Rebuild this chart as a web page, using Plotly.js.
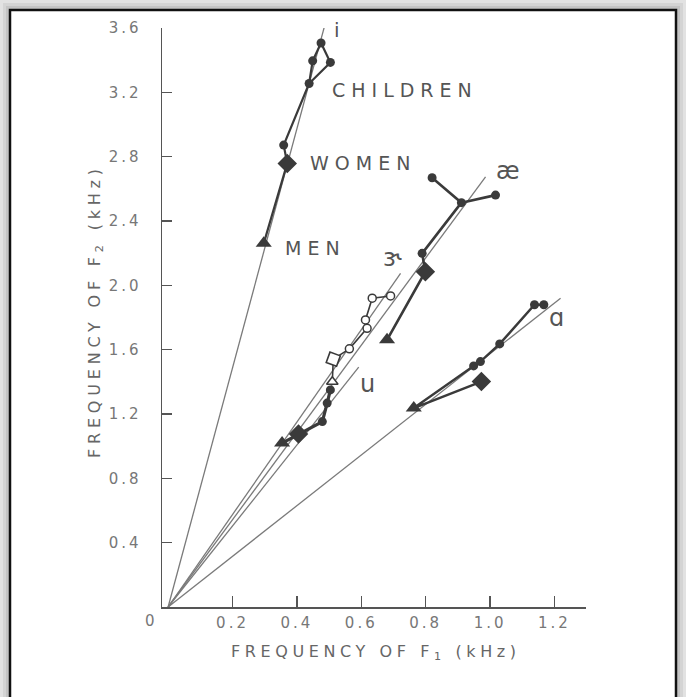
<!DOCTYPE html>
<html><head><meta charset="utf-8">
<script src="https://cdn.plot.ly/plotly-3.0.1.min.js"></script>
<style>body{margin:0;background:#fff}#chart{width:686px;height:697px}</style>
</head><body><div id="chart"></div>
<script>
// ---- data (kHz) ----
const vowels = ['i', 'æ', 'ɝ', 'u', 'ɑ'];
// far ends of the thin lines drawn from the origin, one per vowel
const rayF1 = [0.487, 0.986, 0.722, 0.592, 1.219];
const rayF2 = [3.620, 2.675, 2.075, 1.491, 1.920];

// men (filled triangles) for i, æ, u, ɑ
const menVowel = ['i', 'æ', 'u', 'ɑ'];
const menF1 = [0.297, 0.680, 0.354, 0.763];
const menF2 = [2.261, 1.661, 1.019, 1.237];
// women (filled diamonds) for i, æ, u, ɑ
const womenF1 = [0.370, 0.799, 0.405, 0.973];
const womenF2 = [2.758, 2.085, 1.075, 1.402];
// children (filled dots)
const childI_F1 = [0.359, 0.438, 0.449, 0.475, 0.504];
const childI_F2 = [2.872, 3.255, 3.396, 3.507, 3.386];
const childAE_F1 = [0.789, 0.911, 0.820, 1.017];
const childAE_F2 = [2.199, 2.514, 2.669, 2.561];
const childU_F1 = [0.479, 0.494, 0.504];
const childU_F2 = [1.153, 1.268, 1.350];
const childA_F1 = [0.949, 0.970, 1.030, 1.138, 1.167];
const childA_F2 = [1.499, 1.526, 1.636, 1.879, 1.879];
// ɝ (open symbols)
const erMenF1 = [0.510], erMenF2 = [1.400];
const erWomenF1 = [0.513], erWomenF2 = [1.541];
const erChildF1 = [0.563, 0.618, 0.613, 0.634, 0.691];
const erChildF2 = [1.605, 1.733, 1.785, 1.920, 1.934];

const xTicks = [0.2, 0.4, 0.6, 0.8, 1.0, 1.2];
const xTickText = ['0.2', '0.4', '0.6', '0.8', '1.0', '1.2'];
const yTicks = [0.4, 0.8, 1.2, 1.6, 2.0, 2.4, 2.8, 3.2, 3.6];
const yTickText = ['0.4', '0.8', '1.2', '1.6', '2.0', '2.4', '2.8', '3.2', '3.6'];

// ---- style ----
const INK = '#3a3a3a', RAY = '#7a7a7a', TXT = '#555555';
const FONT = 'DejaVu Sans';
const sp = (t, s) => '<span style="letter-spacing:' + s + 'px">' + t + '</span>';

const traces = [];
// thin rays from the origin
vowels.forEach((v, k) => traces.push({
  type: 'scatter', mode: 'lines', x: [0, rayF1[k]], y: [0, rayF2[k]],
  line: {color: RAY, width: 1.3}, hoverinfo: 'skip', showlegend: false
}));
function path(xs, ys, w) {
  traces.push({type: 'scatter', mode: 'lines', x: xs, y: ys,
    line: {color: INK, width: w}, hoverinfo: 'skip', showlegend: false});
}
// connecting paths men -> women -> children
path([menF1[0], womenF1[0], childI_F1[0], childI_F1[1], childI_F1[2], childI_F1[3], childI_F1[4], childI_F1[1]],
     [menF2[0], womenF2[0], childI_F2[0], childI_F2[1], childI_F2[2], childI_F2[3], childI_F2[4], childI_F2[1]], 2.2);
path([menF1[1], womenF1[1], childAE_F1[0], childAE_F1[1], childAE_F1[2], null, childAE_F1[1], childAE_F1[3]],
     [menF2[1], womenF2[1], childAE_F2[0], childAE_F2[1], childAE_F2[2], null, childAE_F2[1], childAE_F2[3]], 2.6);
path([menF1[2], womenF1[2]].concat(childU_F1), [menF2[2], womenF2[2]].concat(childU_F2), 3.2);
path([womenF1[3], menF1[3]].concat(childA_F1), [womenF2[3], menF2[3]].concat(childA_F2), 2.4);
path(erMenF1.concat(erWomenF1, erChildF1), erMenF2.concat(erWomenF2, erChildF2), 1.6);

// markers
traces.push({type: 'scatter', mode: 'markers', x: menF1, y: menF2, text: menVowel,
  marker: {symbol: 'triangle-up', size: 14, color: INK}, showlegend: false});
traces.push({type: 'scatter', mode: 'markers', x: womenF1, y: womenF2,
  marker: {symbol: 'diamond', size: 15, color: INK}, showlegend: false});
traces.push({type: 'scatter', mode: 'markers',
  x: childI_F1.concat(childAE_F1, childU_F1, childA_F1),
  y: childI_F2.concat(childAE_F2, childU_F2, childA_F2),
  marker: {symbol: 'circle', size: 9, color: INK}, showlegend: false});
traces.push({type: 'scatter', mode: 'markers', x: erMenF1, y: erMenF2,
  marker: {symbol: 'triangle-up', size: 10, color: '#fff', line: {color: INK, width: 1.5}}, showlegend: false});
traces.push({type: 'scatter', mode: 'markers', x: erWomenF1, y: erWomenF2,
  marker: {symbol: 'square', size: 11, color: '#fff', line: {color: INK, width: 1.6}, angle: 20}, showlegend: false});
traces.push({type: 'scatter', mode: 'markers', x: erChildF1, y: erChildF2,
  marker: {symbol: 'circle', size: 8, color: '#fff', line: {color: INK, width: 1.5}}, showlegend: false});

// ---- frame (paper coords) ----
const px = v => (v - 162) / 424, py = v => (607 - v) / 579;
const shapes = [
  {type: 'rect', xref: 'paper', yref: 'paper', x0: px(3), x1: px(683), y0: py(720), y1: py(3), fillcolor: '#d4d4d4', line: {width: 0}, layer: 'below'},
  {type: 'rect', xref: 'paper', yref: 'paper', x0: px(6), x1: px(680), y0: py(720), y1: py(6), fillcolor: '#c4c4c4', line: {width: 0}, layer: 'below'},
  {type: 'rect', xref: 'paper', yref: 'paper', x0: px(10), x1: px(676), y0: py(720), y1: py(10), fillcolor: '#ffffff', line: {color: '#111', width: 2.5}, layer: 'below'}
];

const lab = (t, x, y, size, anchor) => ({xref: 'x', yref: 'y', x: x, y: y, text: t, showarrow: false,
  xanchor: anchor || 'center', yanchor: 'middle', font: {family: FONT, size: size, color: TXT}});
const paperLab = (t, x, y, size, color, angle) => ({xref: 'paper', yref: 'paper', x: px(x), y: py(y), text: t,
  showarrow: false, xanchor: 'center', yanchor: 'middle', textangle: angle || 0,
  font: {family: FONT, size: size, color: color}});
const annotations = [
  lab('i', 0.525, 3.588, 20),
  lab(sp('CHILDREN', 6), 0.503, 3.215, 19, 'left'),
  lab(sp('WOMEN', 6), 0.434, 2.761, 19, 'left'),
  lab(sp('MEN', 6), 0.357, 2.233, 19, 'left'),
  lab('æ', 1.056, 2.711, 24),
  lab('ɝ', 0.698, 2.170, 24),
  lab('u', 0.618, 1.387, 24),
  lab('ɑ', 1.205, 1.797, 24),
  paperLab('0', 150, 621, 15, '#777'),
  paperLab(sp('FREQUENCY OF F<sub>1</sub> (kHz)', 4.6), 376, 652, 16, '#666'),
  paperLab(sp('FREQUENCY OF F<sub>2</sub> (kHz)', 4.8), 95, 311, 16, '#666', -90)
];

const layout = {
  width: 686, height: 697, margin: {l: 162, r: 100, t: 28, b: 90},
  paper_bgcolor: '#e2e2e2', plot_bgcolor: 'rgba(0,0,0,0)', showlegend: false,
  xaxis: {range: [-0.019, 1.298], tickvals: xTicks, ticktext: xTickText.map(t => sp(t, 3)),
    ticks: 'inside', ticklen: 11, tickwidth: 1.5, tickcolor: '#555', showline: true, linecolor: '#555', linewidth: 1.5,
    showgrid: false, zeroline: false, tickfont: {family: FONT, size: 15, color: '#777'}, ticklabelstandoff: 1},
  yaxis: {range: [0, 3.6], tickvals: yTicks, ticktext: yTickText.map(t => sp(t, 3)),
    ticks: 'inside', ticklen: 10, tickwidth: 1.5, tickcolor: '#555', showline: true, linecolor: '#555', linewidth: 1.5,
    showgrid: false, zeroline: false, tickfont: {family: FONT, size: 15, color: '#777'}, ticklabelstandoff: 16},
  shapes: shapes, annotations: annotations
};
Plotly.newPlot('chart', traces, layout, {staticPlot: true});
</script></body></html>
